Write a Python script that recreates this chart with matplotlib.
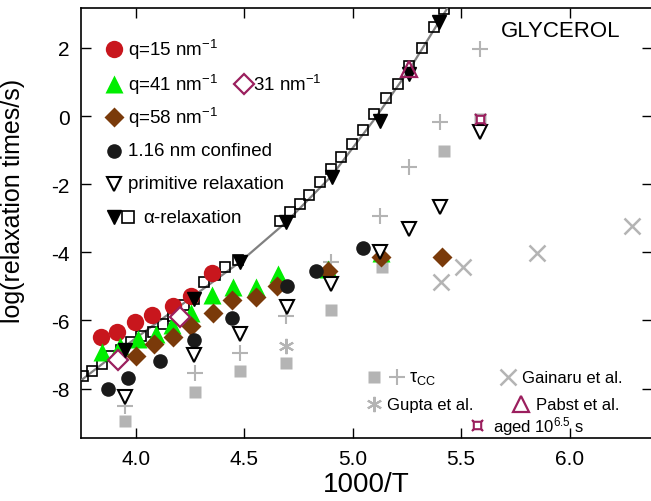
"""Relaxation times of glycerol vs inverse temperature."""

import matplotlib

matplotlib.use("Agg")
import matplotlib.pyplot as plt
from matplotlib.path import Path

# --- data (x = 1000/T, y = log10 tau) ---
q15_x = [3.842, 3.914, 3.995, 4.077, 4.170, 4.257, 4.350]
q15_y = [-6.50, -6.34, -6.05, -5.83, -5.57, -5.27, -4.60]

q41_x = [3.846, 3.929, 4.010, 4.092, 4.169, 4.256, 4.352, 4.449, 4.554, 4.657, 4.888, 5.130]
q41_y = [-6.92, -6.76, -6.54, -6.39, -6.12, -5.79, -5.25, -5.03, -5.02, -4.63, -4.49, -4.02]

q58_x = [4.001, 4.086, 4.171, 4.256, 4.356, 4.443, 4.554, 4.650, 4.888, 5.130, 5.412]
q58_y = [-7.05, -6.69, -6.49, -6.17, -5.77, -5.40, -5.30, -4.98, -4.54, -4.13, -4.14]

q31_x = [3.917, 4.206]
q31_y = [-7.16, -5.90]

conf_x = [3.874, 3.966, 4.114, 4.271, 4.443, 4.696, 4.831, 5.050]
conf_y = [-8.00, -7.68, -7.19, -6.57, -5.92, -4.98, -4.54, -3.88]

prim_x = [3.949, 4.268, 4.482, 4.696, 4.899, 5.127, 5.262, 5.404, 5.589]
prim_y = [-8.25, -7.00, -6.40, -5.61, -4.93, -4.00, -3.31, -2.68, -0.48]

alpha_x = [3.950, 4.270, 4.480, 4.693, 4.904, 5.127, 5.262, 5.396]
alpha_y = [-6.88, -5.37, -4.29, -3.12, -1.80, -0.14, 1.23, 2.75]

alpha_sq_x = [3.755, 3.797, 3.843, 3.886, 3.932, 3.978, 4.025, 4.079, 4.125, 4.171,
              4.225, 4.271, 4.317, 4.364, 4.410, 4.470, 4.665, 4.711, 4.758, 4.800,
              4.850, 4.900, 4.945, 4.996, 5.047, 5.099, 5.155, 5.207, 5.262, 5.320,
              5.376, 5.423]
alpha_sq_y = [-7.64, -7.47, -7.27, -7.05, -6.88, -6.64, -6.46, -6.34, -6.10, -5.86,
              -5.56, -5.37, -4.88, -4.68, -4.44, -4.22, -3.07, -2.82, -2.58, -2.32,
              -1.93, -1.55, -1.21, -0.82, -0.40, 0.06, 0.52, 0.94, 1.48, 2.01,
              2.60, 3.14]

fit_x = [3.75, 4.00, 4.25, 4.48, 4.693, 4.90, 5.10, 5.26, 5.45]
fit_y = [-7.75, -6.52, -5.36, -4.29, -3.12, -1.78, -0.10, 1.35, 3.30]

cc_sq_x = [3.949, 4.273, 4.480, 4.693, 4.899, 5.135, 5.419, 5.589]
cc_sq_y = [-8.95, -8.10, -7.47, -7.24, -5.68, -4.44, -1.02, -0.09]

cc_pl_x = [3.949, 4.273, 4.480, 4.693, 4.899, 5.127, 5.262, 5.404, 5.589]
cc_pl_y = [-8.50, -7.54, -6.95, -5.86, -4.27, -2.92, -1.50, -0.17, 1.96]

gupta_x = [4.693]
gupta_y = [-6.74]

gainaru_x = [5.407, 5.509, 5.848, 6.290]
gainaru_y = [-4.86, -4.44, -4.02, -3.23]

pabst_x = [5.262]
pabst_y = [1.38]

aged_x = [5.589]
aged_y = [-0.09]

x_ticks = [4.0, 4.5, 5.0, 5.5, 6.0]
y_ticks = [-8, -6, -4, -2, 0, 2]

RED = "#c8161d"
GREEN = "#00ee00"
BROWN = "#7a3a0a"
PURPLE = "#9b1f5e"
GRAY = "#b4b4b4"

plt.rcParams["font.family"] = ["Liberation Sans", "DejaVu Sans"]
plt.rcParams["mathtext.default"] = "regular"
plt.rcParams["axes.unicode_minus"] = False

# square with little corner ticks for the "aged" point
aged_marker = Path(
    [(-1, -1), (1, -1), (1, 1), (-1, 1), (-1, -1),
     (-1.5, -1.5), (-1, -1), (1.5, -1.5), (1, -1), (1.5, 1.5), (1, 1), (-1.5, 1.5), (-1, 1)],
    [Path.MOVETO, Path.LINETO, Path.LINETO, Path.LINETO, Path.CLOSEPOLY,
     Path.MOVETO, Path.LINETO, Path.MOVETO, Path.LINETO, Path.MOVETO, Path.LINETO,
     Path.MOVETO, Path.LINETO],
)

fig = plt.figure(figsize=(6.51, 5.02), dpi=100)
ax = fig.add_axes([81 / 651, 63 / 502, 571 / 651, 430 / 502])

# grey literature points
ax.plot(cc_sq_x, cc_sq_y, "s", ms=9, color=GRAY, mec="none", zorder=2)
ax.plot(cc_pl_x, cc_pl_y, "+", ms=12, mew=1.5, color=GRAY, zorder=2)
ax.plot(gupta_x, gupta_y, marker=(6, 2, 0), ls="none", ms=11, mew=1.5, color=GRAY, zorder=2)
ax.plot(gainaru_x, gainaru_y, "x", ms=11, mew=1.8, color=GRAY, zorder=2)

# alpha relaxation (dielectric) and its fit
ax.plot(fit_x, fit_y, "-", color="#808080", lw=1.6, zorder=3)
ax.plot(alpha_sq_x, alpha_sq_y, "s", ms=7, mfc="none", mec="black", mew=1.2, zorder=3)

ax.plot(q15_x, q15_y, "o", ms=12.5, color=RED, mec="none", zorder=4)
ax.plot(q41_x, q41_y, "^", ms=12.5, color=GREEN, mec="none", zorder=4)
ax.plot(q58_x, q58_y, "D", ms=10, color=BROWN, mec="none", zorder=4)
ax.plot(q31_x, q31_y, "D", ms=10, mfc="white", mec=PURPLE, mew=1.6, zorder=5)
ax.plot(conf_x, conf_y, "o", ms=10.5, color="#1a1a1a", mec="none", zorder=5)
ax.plot(prim_x, prim_y, "v", ms=10, mfc="white", mec="black", mew=1.5, zorder=5)
ax.plot(alpha_x, alpha_y, "v", ms=10, color="black", mec="black", zorder=6)
ax.plot(pabst_x, pabst_y, "^", ms=11, mfc="none", mec=PURPLE, mew=1.6, zorder=7)
ax.plot(aged_x, aged_y, marker=aged_marker, ls="none", ms=8, mfc="white", mec=PURPLE,
        mew=1.5, zorder=7)

ax.set_xlim(3.748, 6.38)
ax.set_ylim(-9.45, 3.17)
ax.set_xticks(x_ticks)
ax.set_xticklabels([f"{v:.1f}" for v in x_ticks])
ax.set_yticks(y_ticks)
ax.set_yticklabels([str(v) for v in y_ticks])
ax.tick_params(direction="in", length=7, width=1, labelsize=15, top=True, right=True, pad=8)
for side in ax.spines.values():
    side.set_linewidth(1.2)

ax.set_xlabel("1000/T", fontsize=20, labelpad=2)
ax.set_ylabel("log(relaxation times/s)", fontsize=18)
ax.yaxis.set_label_coords(-0.098, 0.553)

ax.text(0.735, 0.947, "GLYCEROL", transform=ax.transAxes, fontsize=16, va="center")

# legend (upper left), drawn by hand
tr = ax.transAxes
leg_fs = 13.5
ax.plot(0.057, 0.905, "o", ms=12.5, color=RED, mec="none", transform=tr)
ax.text(0.082, 0.905, "q=15 nm$^{-1}$", transform=tr, fontsize=leg_fs, va="center")
ax.plot(0.057, 0.823, "^", ms=12.5, color=GREEN, mec="none", transform=tr)
ax.text(0.082, 0.823, "q=41 nm$^{-1}$", transform=tr, fontsize=leg_fs, va="center")
ax.plot(0.285, 0.823, "D", ms=10, mfc="white", mec=PURPLE, mew=1.6, transform=tr)
ax.text(0.302, 0.823, "31 nm$^{-1}$", transform=tr, fontsize=leg_fs, va="center")
ax.plot(0.057, 0.746, "D", ms=10, color=BROWN, mec="none", transform=tr)
ax.text(0.082, 0.746, "q=58 nm$^{-1}$", transform=tr, fontsize=leg_fs, va="center")
ax.plot(0.057, 0.668, "o", ms=10.5, color="#1a1a1a", mec="none", transform=tr)
ax.text(0.082, 0.668, "1.16 nm confined", transform=tr, fontsize=leg_fs, va="center")
ax.plot(0.057, 0.591, "v", ms=10, mfc="white", mec="black", mew=1.5, transform=tr)
ax.text(0.082, 0.591, "primitive relaxation", transform=tr, fontsize=leg_fs, va="center")
ax.plot(0.057, 0.513, "v", ms=10, color="black", transform=tr)
ax.plot(0.083, 0.513, "s", ms=8, mfc="white", mec="black", mew=1.2, transform=tr)
ax.text(0.109, 0.513, "α-relaxation", transform=tr, fontsize=leg_fs, va="center")

# legend (lower right)
small_fs = 12
ax.plot(0.513, 0.141, "s", ms=9, color=GRAY, mec="none", transform=tr)
ax.plot(0.553, 0.141, "+", ms=12, mew=1.5, color=GRAY, transform=tr)
ax.text(0.574, 0.141, "τ$_{CC}$", transform=tr, fontsize=small_fs + 1, va="center")
ax.plot(0.747, 0.141, "x", ms=11, mew=1.8, color=GRAY, transform=tr)
ax.text(0.773, 0.141, "Gainaru et al.", transform=tr, fontsize=small_fs, va="center")
ax.plot(0.513, 0.079, marker=(6, 2, 0), ms=11, mew=1.5, color=GRAY, transform=tr)
ax.text(0.536, 0.079, "Gupta et al.", transform=tr, fontsize=small_fs, va="center")
ax.plot(0.770, 0.079, "^", ms=11, mfc="none", mec=PURPLE, mew=1.6, transform=tr)
ax.text(0.796, 0.079, "Pabst et al.", transform=tr, fontsize=small_fs, va="center")
ax.plot(0.694, 0.030, marker=aged_marker, ms=8, mfc="white", mec=PURPLE, mew=1.5, transform=tr)
ax.text(0.722, 0.030, "aged 10$^{6.5}$ s", transform=tr, fontsize=small_fs, va="center")

fig.savefig("out.png", dpi=100)
